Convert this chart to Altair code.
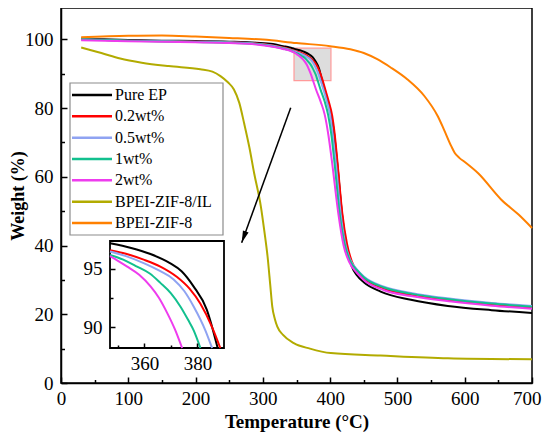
import altair as alt
import pandas as pd

FONT = "Liberation Serif"

names = ["Pure EP", "0.2wt%", "0.5wt%", "1wt%", "2wt%", "BPEI-ZIF-8/IL", "BPEI-ZIF-8"]
colors = ["#000000", "#ff0000", "#8fa3f2", "#12c08e", "#ee3cee", "#b2ab00", "#ff8000"]

t_pure = [30, 60, 100, 150, 200, 250, 290, 315, 330, 340, 347, 355, 362, 369.6, 374, 378.5, 383.5, 387.6,
          393, 400, 405, 411, 418, 425, 432, 440, 450, 475, 520, 575, 640, 700]
w_pure = [100.2, 100.0, 99.8, 99.6, 99.5, 99.3, 99.0, 98.6, 98.0, 97.6, 97.2, 96.8, 96.3, 95.5, 94.8, 93.5, 91.5, 88.2,
          84.5, 79, 74, 63, 48.5, 39, 34, 31.3, 29.3, 26.6, 24.2, 22.4, 21.2, 20.4]

t_02 = [30, 100, 200, 250, 290, 315, 330, 340, 347, 353, 359.7, 366, 372.3, 377, 381.1, 385.5, 388.6,
        393, 398, 403, 407, 411, 418, 425, 432, 440, 450, 480, 520, 580, 640, 700]
w_02 = [100.0, 99.6, 99.3, 99.1, 98.8, 98.2, 97.6, 97.1, 96.6, 96.3, 95.8, 95.2, 94.3, 93.3, 92.0, 90.0, 88.2,
        85.2, 81.8, 77.8, 72, 64, 49.5, 40.5, 35.5, 32.5, 30.5, 27.5, 25.6, 24.0, 22.9, 21.9]

t_05 = [30, 100, 200, 250, 290, 315, 330, 340, 347, 353, 359.7, 366, 371, 375, 378.6, 383, 385.5,
        390, 395, 400, 404, 408.5, 415.5, 422.5, 430, 440, 450, 480, 520, 580, 640, 700]
w_05 = [100.0, 99.6, 99.3, 99.1, 98.7, 98.1, 97.5, 97.0, 96.5, 96.1, 95.5, 94.8, 94.1, 93.1, 91.75, 89.7, 88.2,
        85.4, 82, 78, 72, 64, 49.5, 40.5, 35.8, 33, 31, 28, 26.2, 24.5, 23.3, 22.4]

t_1 = [30, 100, 200, 250, 290, 315, 330, 340, 347, 352, 357.2, 362, 366, 370, 373.6, 376.5, 378.6, 381.1,
       386, 392, 397, 402, 406.5, 414, 421.5, 429, 440, 450, 480, 520, 580, 640, 700]
w_1 = [100.0, 99.6, 99.2, 99.0, 98.6, 97.9, 97.3, 96.8, 96.2, 95.8, 95.2, 94.6, 93.8, 92.9, 91.75, 90.6, 89.7, 88.2,
       85.2, 81.8, 78, 72, 64, 49.5, 40.5, 35.8, 32.8, 30.8, 27.8, 26, 24.3, 23.1, 22.2]

t_2 = [30, 100, 200, 250, 290, 315, 330, 340, 347, 350, 353.5, 358, 362.3, 365.5, 368.6, 371.5, 374.2,
       379, 386, 392, 397.5, 403, 412, 420, 428, 440, 450, 480, 520, 580, 640, 700]
w_2 = [99.7, 99.4, 99.1, 98.9, 98.5, 97.8, 97.2, 96.7, 96.1, 95.7, 95.2, 94.5, 93.5, 92.5, 91.2, 89.8, 88.2,
       85.4, 81.8, 78, 72, 64, 49.5, 40, 35.3, 32, 30, 27, 25.3, 23.7, 22.5, 21.6]

t_il = [30, 60, 88, 120, 160, 207, 225, 237, 248, 257, 265, 272, 280, 287, 297, 302, 307, 311, 314, 318,
        321.5, 330, 346, 370, 401, 475, 575, 700]
w_il = [97.6, 96.0, 94.4, 93.2, 92.2, 91.3, 90.6, 89.3, 87.5, 85.4, 81.5, 75.7, 68.5, 61.1, 51.4, 44.5, 36.8, 28.5,
        22.2, 18.5, 16.4, 14.0, 11.6, 10.0, 8.7, 8.0, 7.2, 6.9]

t_zif = [30, 100, 150, 200, 250, 300, 350, 400, 430, 450, 470, 490, 515, 540, 560, 569, 580, 585, 592, 600,
         620, 654, 680, 700]
w_zif = [100.6, 101.0, 101.1, 100.8, 100.4, 99.9, 98.9, 98.0, 97.1, 96.0, 94.2, 91.8, 88.3, 83.5, 77.6, 73.8,
         68.9, 67.0, 65.5, 64.3, 61.0, 53.4, 49.0, 45.1]

series_t = [t_pure, t_02, t_05, t_1, t_2, t_il, t_zif]
series_w = [w_pure, w_02, w_05, w_1, w_2, w_il, w_zif]

x_ticks = [0, 100, 200, 300, 400, 500, 600, 700]
x_minor = [50, 150, 250, 350, 450, 550, 650]
y_ticks = [0, 20, 40, 60, 80, 100]
y_minor = [10, 30, 50, 70, 90]
inset_x_ticks = [360, 380]
inset_x_minor = [350, 370]
inset_y_ticks = [90, 95]
inset_y_minor = [92.5]

# zoom window shown in the inset and the highlighted box in the main plot
inset_T = [347, 390]
inset_W = [88.2, 97.4]
rect_T = [346.3, 401.2]
rect_W = [88.0, 97.4]
arrow_T = [341.4, 268.5]
arrow_W = [80.1, 40.8]

rows = []
for n, ts, ws in zip(names, series_t, series_w):
    for t, w in zip(ts, ws):
        rows.append({"series": n, "T": t, "W": w})
df = pd.DataFrame(rows)

PW, PH = 471, 375
XDOM = [0, 700]
YDOM = [0, 109.1]
INSET_XR = [49, 163]
INSET_YR = [340, 233]


def xs():
    return alt.Scale(domain=XDOM, nice=False, zero=False)


def ys():
    return alt.Scale(domain=YDOM, nice=False, zero=False)


def ixs():
    return alt.Scale(domain=inset_T, range=INSET_XR, nice=False, zero=False)


def iys():
    return alt.Scale(domain=inset_W, range=INSET_YR, nice=False, zero=False)


cscale = alt.Scale(domain=names, range=colors)

# highlighted region
rect_df = pd.DataFrame({"x0": [rect_T[0]], "x1": [rect_T[1]], "y0": [rect_W[0]], "y1": [rect_W[1]]})
zoom_rect = alt.Chart(rect_df).mark_rect(fill="#d9d9d9", fillOpacity=0.9, stroke="#ff9a9a", strokeWidth=1.2).encode(
    x=alt.X("x0:Q", scale=xs(), axis=None), x2="x1:Q",
    y=alt.Y("y0:Q", scale=ys(), axis=None), y2="y1:Q",
)

lines = alt.Chart(df).mark_line(strokeWidth=2, interpolate="monotone").encode(
    x=alt.X("T:Q", scale=xs(),
            axis=alt.Axis(orient="bottom", values=x_ticks[:-1], ticks=False, labelPadding=6, labelFlush=False,
                          title="Temperature (°C)", titlePadding=4)),
    y=alt.Y("W:Q", scale=ys(),
            axis=alt.Axis(orient="left", values=y_ticks, ticks=False, labelPadding=8,
                          title="Weight (%)", titleX=-43, titleBaseline="middle", titleAngle=270,
                          titleFontSize=18)),
    color=alt.Color("series:N", scale=cscale, legend=None),
)

# last x label, kept inside the page edge
last_label = alt.Chart(pd.DataFrame({"v": x_ticks[-1:]})).mark_point(opacity=0).encode(
    x=alt.X("v:Q", scale=xs(),
            axis=alt.Axis(orient="bottom", values=x_ticks[-1:], ticks=False, domain=False, labelPadding=6,
                          labelFlush=True, labelFlushOffset=9, title=""))
)

arrow_df = pd.DataFrame({"T": arrow_T, "W": arrow_W, "end": [0, 1]})
arrow_line = alt.Chart(arrow_df).mark_line(color="black", strokeWidth=1.5).encode(
    x=alt.X("T:Q", scale=xs(), axis=None), y=alt.Y("W:Q", scale=ys(), axis=None)
)
arrow_head = alt.Chart(arrow_df).transform_filter(alt.datum.end == 1).mark_point(
    shape="M0,0L-0.5,2L0.5,2Z", size=144, angle=200, filled=True, color="black", opacity=1
).encode(x=alt.X("T:Q", scale=xs(), axis=None), y=alt.Y("W:Q", scale=ys(), axis=None))

# legend
leg_df = pd.DataFrame({"series": names})
leg_box = alt.Chart(pd.DataFrame({"a": [0]})).mark_rect(fill="white", stroke="#8c8c8c", strokeWidth=1.2).encode(
    x=alt.value(9), x2=alt.value(162), y=alt.value(75), y2=alt.value(227)
)
leg_y = alt.Y("series:N", scale=alt.Scale(type="point", domain=names, range=[87, 215], padding=0), axis=None)
leg_lines = alt.Chart(leg_df).mark_rule(strokeWidth=2.5).encode(
    x=alt.value(11), x2=alt.value(51), y=leg_y,
    color=alt.Color("series:N", scale=cscale, legend=None),
)
leg_text = alt.Chart(leg_df).mark_text(align="left", baseline="middle", font=FONT, fontSize=16, color="black").encode(
    x=alt.value(54), y=leg_y, text="series:N"
)

# inset
ibox_df = pd.DataFrame({"x0": [inset_T[0]], "x1": [inset_T[1]], "y0": [inset_W[0]], "y1": [inset_W[1]]})
inset_box = alt.Chart(ibox_df).mark_rect(fill="white", stroke="black", strokeWidth=1.8).encode(
    x=alt.X("x0:Q", scale=ixs(), axis=None), x2="x1:Q",
    y=alt.Y("y0:Q", scale=iys(), axis=None), y2="y1:Q",
)
inset_lines = alt.Chart(df).transform_filter(
    (alt.datum.T >= inset_T[0]) & (alt.datum.T <= inset_T[1]) &
    (alt.datum.W >= inset_W[0] - 0.01) & (alt.datum.W <= inset_W[1] + 0.05)
).mark_line(strokeWidth=2, interpolate="monotone").encode(
    x=alt.X("T:Q", scale=ixs(),
            axis=alt.Axis(orient="bottom", offset=-(PH - INSET_YR[0]), values=inset_x_ticks, ticks=False,
                          domain=False, labelPadding=6, labelFlush=False, title="", zindex=1)),
    y=alt.Y("W:Q", scale=iys(),
            axis=alt.Axis(orient="left", offset=-INSET_XR[0], values=inset_y_ticks, ticks=False,
                          domain=False, labelPadding=8, title="", zindex=1)),
    color=alt.Color("series:N", scale=cscale, legend=None),
)


def tick_layer(values, channel, scale, orient, offset, size):
    d = pd.DataFrame({"v": values})
    ax = alt.Axis(orient=orient, offset=offset, values=values, tickSize=size, labels=False, domain=False,
                  grid=False, title="", tickColor="black", tickWidth=1.5, zindex=1)
    if channel == "x":
        enc = {"x": alt.X("v:Q", scale=scale, axis=ax)}
    else:
        enc = {"y": alt.Y("v:Q", scale=scale, axis=ax)}
    return alt.Chart(d).mark_point(opacity=0).encode(**enc)


ticks = [
    tick_layer(x_ticks, "x", xs(), "top", -PH, 6),
    tick_layer(x_minor, "x", xs(), "top", -PH, 3.5),
    tick_layer(y_ticks, "y", ys(), "right", -PW, 6),
    tick_layer(y_minor, "y", ys(), "right", -PW, 3.5),
    tick_layer(inset_x_ticks, "x", ixs(), "top", -INSET_YR[0], 5),
    tick_layer(inset_x_minor, "x", ixs(), "top", -INSET_YR[0], 3),
    tick_layer(inset_y_ticks, "y", iys(), "right", -(PW - INSET_XR[0]), 5),
    tick_layer(inset_y_minor, "y", iys(), "right", -(PW - INSET_XR[0]), 3),
]

chart = alt.layer(
    zoom_rect, lines, last_label, arrow_line, arrow_head, leg_box, leg_lines, leg_text, inset_box, inset_lines,
    *ticks
).resolve_scale(
    x="independent", y="independent"
).properties(
    width=PW, height=PH, autosize="none",
    padding={"left": 53, "top": 0, "right": 10, "bottom": 50},
).configure_view(
    stroke="black", strokeWidth=1.5
).configure_axis(
    labelFont=FONT, labelFontSize=19, labelColor="black",
    titleFont=FONT, titleFontSize=19, titleFontWeight="bold", titleColor="black",
    domainColor="black", domainWidth=1.5, grid=False,
)

chart.save("out.html", embed_options={"renderer": "svg", "actions": False})
